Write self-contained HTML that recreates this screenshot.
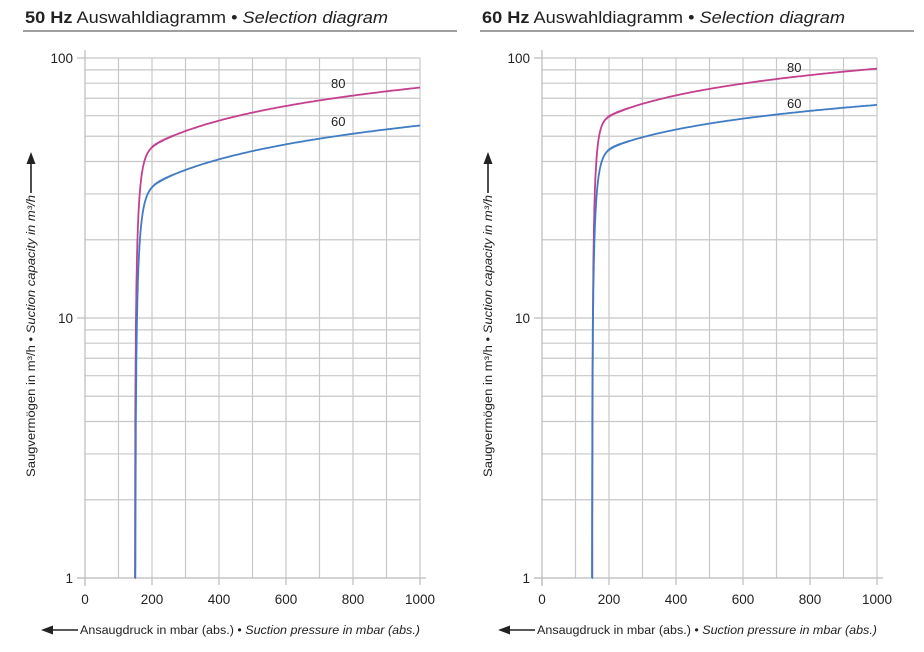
<!DOCTYPE html>
<html><head><meta charset="utf-8"><style>
body{margin:0;background:#fff;width:924px;height:652px;overflow:hidden}
svg{display:block}
text{font-family:"Liberation Sans",sans-serif;fill:#222}
</style></head><body>
<svg id="s" width="924" height="652" xmlns="http://www.w3.org/2000/svg"></svg>
<script>
const s=document.getElementById('s');let h='';
function chart(ox,x0,x1,title,curves,labels){
  const yt=58,yb=578,dec=260;
  const X=p=>x0+(x1-x0)*p/1000, Y=q=>yb-Math.log10(q)*dec;
  h+=`<text x="${ox}" y="23" font-size="17" textLength="363" lengthAdjust="spacingAndGlyphs"><tspan font-weight="bold">${title}</tspan> Auswahldiagramm • <tspan font-style="italic">Selection diagram</tspan></text>`;
  h+=`<line x1="${ox-2}" y1="31" x2="${ox+432}" y2="31" stroke="#666" stroke-width="1.3"/>`;
  for(let p=100;p<=1000;p+=100)h+=`<line x1="${X(p)}" y1="${yt}" x2="${X(p)}" y2="${yb}" stroke="#c8c8c8" stroke-width="1.2"/>`;
  for(const d of [1,10])for(let m=2;m<=10;m++){const q=d*m;if(q>100||(m==10&&d==1))continue;
    h+=`<line x1="${x0}" y1="${Y(q)}" x2="${x1}" y2="${Y(q)}" stroke="#c8c8c8" stroke-width="1.2"/>`;}
  h+=`<line x1="${x0}" y1="${Y(10)}" x2="${x1}" y2="${Y(10)}" stroke="#c8c8c8" stroke-width="1.2"/>`;
  h+=`<line x1="${x0}" y1="${yt-8}" x2="${x0}" y2="${yb+8}" stroke="#bbb" stroke-width="1.2"/>`;
  h+=`<line x1="${x0-8}" y1="${yb}" x2="${x1+6}" y2="${yb}" stroke="#bbb" stroke-width="1.2"/>`;
  for(let p=0;p<=1000;p+=200)h+=`<line x1="${X(p)}" y1="${yb}" x2="${X(p)}" y2="${yb+7}" stroke="#bbb" stroke-width="1.2"/><text x="${X(p)}" y="${yb+26}" font-size="13.5" text-anchor="middle">${p}</text>`;
  for(const [q,l] of [[100,'100'],[10,'10'],[1,'1']])h+=`<line x1="${x0-8}" y1="${Y(q)}" x2="${x0}" y2="${Y(q)}" stroke="#bbb" stroke-width="1.2"/><text x="${x0-12}" y="${Y(q)+5}" font-size="13.5" text-anchor="end">${l}</text>`;
  for(const c of curves){
    let pts=[];const [p0,Q200,k,tau,col]=c;
    for(let p=p0;p<=1000;p+=(p<260?0.25:5)){
      let q=Q200*Math.pow(p/200,k)*(1-Math.exp(-(p-p0)/tau));
      if(q<1)q=1;pts.push(X(p).toFixed(1)+','+Y(q).toFixed(1));}
    h+=`<polyline points="${pts.join(' ')}" fill="none" stroke="${col}" stroke-width="1.8"/>`;
  }
  for(const [t,x,y] of labels)h+=`<text x="${x}" y="${y}" font-size="13">${t}</text>`;
  // x label
  h+=`<line x1="${x0-36}" y1="630" x2="${x0-7}" y2="630" stroke="#222" stroke-width="1.6"/><polygon points="${x0-44},630 ${x0-32},625.5 ${x0-32},634.5" fill="#222"/>`;
  h+=`<text x="${x0-5}" y="634" font-size="11.5" textLength="${x1-x0+5}" lengthAdjust="spacingAndGlyphs">Ansaugdruck in mbar (abs.) • <tspan font-style="italic">Suction pressure in mbar (abs.)</tspan></text>`;
  // y label
  const cx=ox+6;
  h+=`<line x1="${cx}" y1="160" x2="${cx}" y2="193" stroke="#222" stroke-width="1.6"/><polygon points="${cx},152 ${cx-4.5},164 ${cx+4.5},164" fill="#222"/>`;
  h+=`<text transform="translate(${cx+4},477) rotate(-90)" font-size="11.5" textLength="282" lengthAdjust="spacingAndGlyphs">Saugvermögen in m³/h • <tspan font-style="italic">Suction capacity in m³/h</tspan></text>`;
}
chart(25,85,420,'50 Hz',[[149,46,0.32,12,'#c43f8e'],[150,32.5,0.327,13,'#3f7cc4']],[['80',331,88],['60',331,126]]);
chart(482,542,877,'60 Hz',[[150,60,0.259,10,'#c43f8e'],[149,45,0.238,12,'#3f7cc4']],[['80',787,72],['60',787,108]]);
s.innerHTML=h;
</script>
</body></html>
